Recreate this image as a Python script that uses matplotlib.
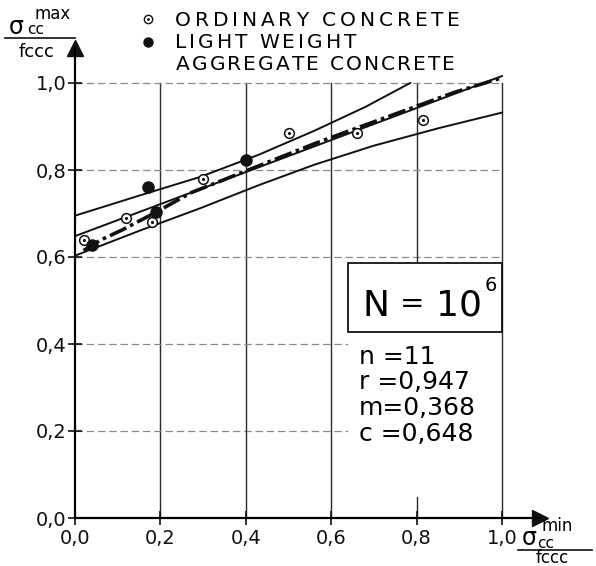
import matplotlib.pyplot as plt
from matplotlib.lines import Line2D
from matplotlib.patches import Rectangle
from matplotlib.textpath import TextToPath
from matplotlib.font_manager import FontProperties

W, H = 596, 566
plt.rcParams['font.family'] = ['DejaVu Sans']

# test results, sigma_min/fccc against sigma_max/fccc
ordinary_x = [0.02, 0.12, 0.18, 0.30, 0.50, 0.66, 0.815]
ordinary_y = [0.64, 0.69, 0.68, 0.78, 0.885, 0.885, 0.915]
light_x = [0.04, 0.17, 0.19, 0.40]
light_y = [0.628, 0.76, 0.703, 0.823]

# regression statistics
n_tests = 11
r_coef = 0.947
m_coef = 0.368
c_coef = 0.648

# confidence limits (drawn curves)
upper_x = [0.0, 0.15, 0.293, 0.43, 0.56, 0.68, 0.785]
upper_y = [0.695, 0.741, 0.784, 0.835, 0.890, 0.945, 1.0]
lower_x = [0.0, 0.15, 0.293, 0.43, 0.56, 0.70, 0.855, 1.0]
lower_y = [0.603, 0.660, 0.712, 0.765, 0.812, 0.856, 0.897, 0.932]

# dash-dot design line
design_x = [0.02, 0.06, 0.11, 0.19, 0.27, 0.57, 0.89, 1.0]
design_y = [0.615, 0.639, 0.662, 0.703, 0.747, 0.864, 0.979, 1.012]

ticks = [0.0, 0.2, 0.4, 0.6, 0.8, 1.0]
tick_labels = ['0,0', '0,2', '0,4', '0,6', '0,8', '1,0']


def px(x, y):
    return x / W, 1 - y / H


def tracked(x0, x1, y, s, size=14.5):
    # letter-spaced caps filling the span x0..x1 (pixels)
    prop = FontProperties(family='DejaVu Sans', size=size)
    t2p = TextToPath()
    widths = [t2p.get_text_width_height_descent(ch, prop, ismath=False)[0]
              * 100 / 72 for ch in s]
    gap = (x1 - x0 - sum(widths)) / (len(s) - 1)
    x = x0
    for ch, w in zip(s, widths):
        fig.text(*px(x, y), ch, ha='left', va='center', fontsize=size)
        x += w + gap


fig = plt.figure(figsize=(W / 100, H / 100), dpi=100)
ax = fig.add_axes([75 / W, 48 / H, 1.09 * 427 / W, 1.08 * 435 / H])
ax.set_xlim(0, 1.09)
ax.set_ylim(0, 1.08)

# grid: solid verticals, dashed horizontals
for t in ticks[1:]:
    ax.plot([t, t], [0, 1.0], color='#2a2a2a', lw=1.0, zorder=1)
    ax.plot([0, 1.0], [t, t], color='#8a8a8a', lw=0.9, dashes=(6, 3), zorder=1)

# white field for the statistics
ax.add_patch(Rectangle((0.639, 0.048), 0.358, 0.538, facecolor='white',
                       edgecolor='none', zorder=2))
ax.add_patch(Rectangle((0.639, 0.428), 0.361, 0.158, facecolor='none',
                       edgecolor='#111111', lw=1.3, zorder=3))

ax.plot(upper_x, upper_y, color='#111111', lw=1.4, zorder=4)
ax.plot(lower_x, lower_y, color='#111111', lw=1.4, zorder=4)
ax.plot([0, 1.0], [c_coef, c_coef + m_coef], color='#111111', lw=1.4, zorder=4)
ax.plot(design_x, design_y, color='#111111', lw=2.6, dashes=(5, 1.2, 1, 1.2),
        zorder=4)

ax.plot(ordinary_x, ordinary_y, 'o', ms=7, mfc='white', mec='#111111',
        mew=1.1, zorder=5)
ax.plot(ordinary_x, ordinary_y, '.', ms=2.5, color='#111111', zorder=6)
ax.plot(light_x, light_y, 'o', ms=8, color='#111111', zorder=5)

# axes with arrow heads
for side in ['top', 'right']:
    ax.spines[side].set_visible(False)
for side in ['left', 'bottom']:
    ax.spines[side].set_linewidth(1.6)
ax.plot(1, 0, '>', ms=11, color='#111111', transform=ax.get_yaxis_transform(),
        clip_on=False)
ax.plot(0, 1, '^', ms=11, color='#111111', transform=ax.get_xaxis_transform(),
        clip_on=False)

ax.set_xticks(ticks)
ax.set_xticklabels(tick_labels)
ax.set_yticks(ticks)
ax.set_yticklabels(tick_labels)
ax.tick_params(direction='inout', length=10, width=1.2, labelsize=14,
               colors='#111111')
ax.tick_params(axis='x', pad=3)
ax.tick_params(axis='y', pad=1)

# statistics
fig.text(*px(362, 316), 'N', fontsize=26, ha='left', va='baseline')
fig.text(*px(412, 304), '=', fontsize=21, ha='center', va='center')
fig.text(*px(482, 316), '10', fontsize=26, ha='right', va='baseline')
fig.text(*px(485, 291), '6', fontsize=14, ha='left', va='baseline')
stats = ['n =%d' % n_tests, 'r =' + ('%.3f' % r_coef).replace('.', ','),
         'm=' + ('%.3f' % m_coef).replace('.', ','),
         'c =' + ('%.3f' % c_coef).replace('.', ',')]
for i, s in enumerate(stats):
    ax.text(0.665, 0.355 - i * 0.059, s, fontsize=18, zorder=6)

# legend
fig.add_artist(Line2D([148 / W], [1 - 19 / H], marker='o', ms=6, mfc='white',
                      mec='#111111', mew=1.0, transform=fig.transFigure))
fig.add_artist(Line2D([148 / W], [1 - 19 / H], marker='.', ms=2, color='#111111',
                      transform=fig.transFigure))
fig.add_artist(Line2D([148 / W], [1 - 42 / H], marker='o', ms=6.5,
                      color='#111111', transform=fig.transFigure))
tracked(175, 460, 20, 'ORDINARY CONCRETE')
tracked(175, 356, 43, 'LIGHT WEIGHT')
tracked(176, 455, 64, 'AGGREGATE CONCRETE')

# axis titles as fractions
fig.text(*px(16, 27), 'σ', fontsize=17, ha='center', va='center')
fig.text(*px(36, 30), 'cc', fontsize=11, ha='center', va='center')
fig.text(*px(53, 14), 'max', fontsize=12, ha='center', va='center')
fig.add_artist(Line2D([5 / W, 75 / W], [1 - 38 / H, 1 - 38 / H], lw=1.2,
                      color='#111111', transform=fig.transFigure))
fig.text(*px(37, 52), 'fccc', fontsize=13, ha='center', va='center')

fig.text(*px(529, 538), 'σ', fontsize=17, ha='center', va='center')
fig.text(*px(546, 543), 'cc', fontsize=11, ha='center', va='center')
fig.text(*px(557, 526), 'min', fontsize=12, ha='center', va='center')
fig.add_artist(Line2D([518 / W, 592 / W], [1 - 550 / H, 1 - 550 / H], lw=1.2,
                      color='#111111', transform=fig.transFigure))
fig.text(*px(552, 558), 'fccc', fontsize=12, ha='center', va='center')

fig.savefig('out.png', dpi=100, facecolor='white')
